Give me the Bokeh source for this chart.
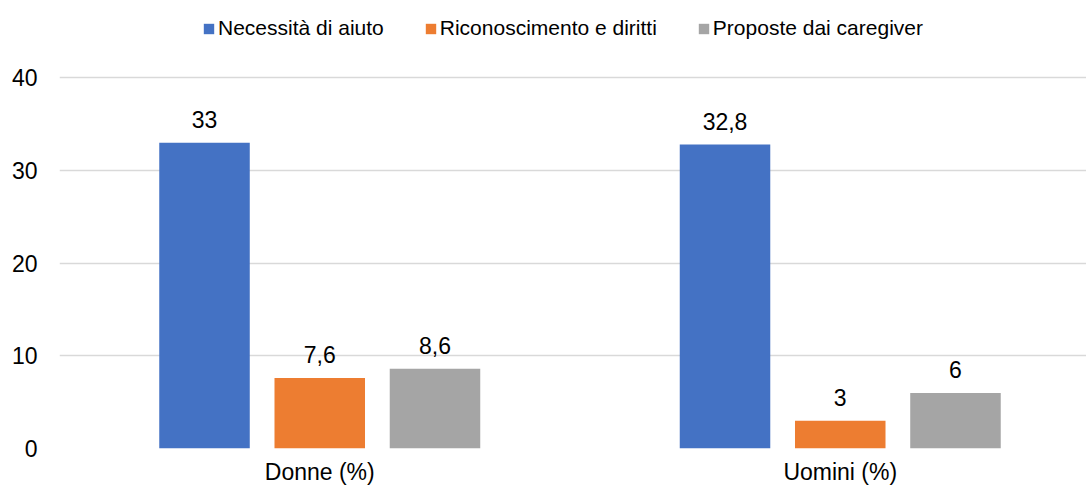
from bokeh.plotting import figure
from bokeh.models import ColumnDataSource, FixedTicker, Legend, LegendItem, LabelSet, Range1d
from bokeh.transform import dodge
from bokeh.core.properties import value
from bokeh.embed import file_html
from bokeh.resources import INLINE

# ---- data ----
categories = ["Donne (%)", "Uomini (%)"]
series_names = ["Necessità di aiuto", "Riconoscimento e diritti", "Proposte dai caregiver"]
necessita = [33, 32.8]
riconoscimento = [7.6, 3]
proposte = [8.6, 6]
y_ticks = [0, 10, 20, 30, 40]
colors = ["#4472C4", "#ED7D31", "#A5A5A5"]

FONT = "Liberation Sans"
FS = "23px"
LEG_FS = "21px"

xpos = [i + 0.5 for i in range(len(categories))]

def fmt(v):
    return f"{v:g}".replace(".", ",")

# frame spans y=0..448 px; value 40 must land at ~77.7 px from the top
y_end = 40 * 448 / 370.6

p = figure(width=1086, height=488, output_backend="svg", toolbar_location=None,
           x_range=Range1d(0, (1086 - 59) / 520.5), y_range=Range1d(0, y_end),
           min_border_left=59, min_border_right=0, min_border_top=0, min_border_bottom=40)

p.outline_line_color = None
p.background_fill_color = "white"
p.border_fill_color = "white"

offsets = [-0.2214, 0.0, 0.2214]
bar_w = 0.1739
series_vals = [necessita, riconoscimento, proposte]
renderers = []
for name, vals, off, col in zip(series_names, series_vals, offsets, colors):
    src = ColumnDataSource(dict(x=xpos, top=vals, lab=[fmt(v) for v in vals]))
    r = p.vbar(x=dodge("x", off, range=p.x_range), top="top", width=bar_w, source=src,
               fill_color=col, line_color=None)
    renderers.append(r)
    labels = LabelSet(x=dodge("x", off, range=p.x_range), y="top", text="lab", source=src,
                      text_align="center", text_baseline="alphabetic", y_offset=15,
                      text_font=value(FONT), text_font_size=value(FS), text_color="#000000")
    p.add_layout(labels)

# axes
p.xaxis.ticker = FixedTicker(ticks=xpos)
p.xaxis.major_label_overrides = {x: c for x, c in zip(xpos, categories)}
p.yaxis.ticker = FixedTicker(ticks=y_ticks)
for ax in (p.xaxis, p.yaxis):
    ax.axis_line_color = None
    ax.major_tick_line_color = None
    ax.minor_tick_line_color = None
    ax.major_tick_out = 0
    ax.major_tick_in = 0
    ax.major_label_text_font = FONT
    ax.major_label_text_font_size = FS
    ax.major_label_text_color = "#000000"
p.xaxis.major_label_standoff = 10
p.yaxis.major_label_standoff = 22

p.xgrid.grid_line_color = None
p.ygrid.ticker = FixedTicker(ticks=y_ticks)
p.ygrid.grid_line_color = "#d9d9d9"
p.ygrid.grid_line_width = 1.5

legend = Legend(items=[LegendItem(label=n, renderers=[r]) for n, r in zip(series_names, renderers)],
                orientation="horizontal", location=(143, 408),
                glyph_width=13, glyph_height=13, label_standoff=3, spacing=40,
                padding=0, margin=0, label_height=21,
                label_text_font=FONT, label_text_font_size=LEG_FS, label_text_color="#000000",
                background_fill_alpha=0, border_line_color=None)
p.add_layout(legend, "center")

open("out.html", "w").write(file_html(p, INLINE))
